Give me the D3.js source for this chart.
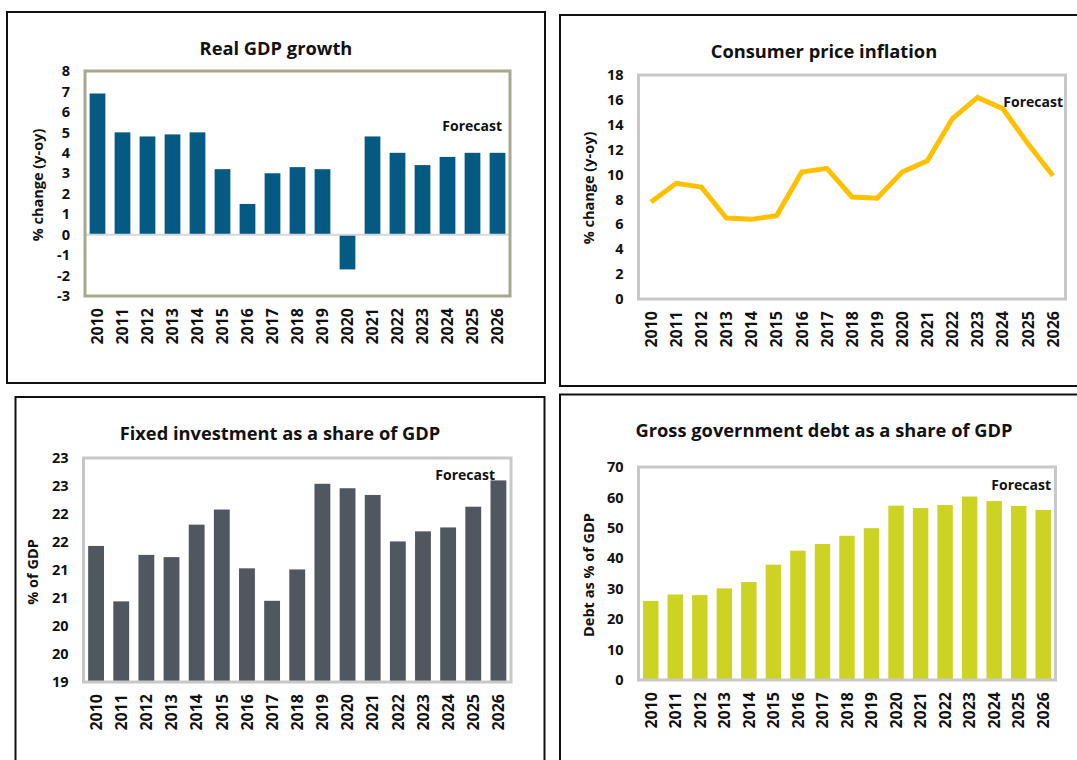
<!DOCTYPE html>
<html>
<head>
<meta charset="utf-8">
<script src="https://cdn.jsdelivr.net/npm/d3@7"></script>
<style>
  html, body { margin: 0; padding: 0; background: #fff; overflow: hidden; }
  svg { display: block; font-family: "Open Sans", "Noto Sans", sans-serif; }
  text { font-weight: 700; fill: #111; }
</style>
</head>
<body>
<svg id="chart" width="1077" height="760"></svg>
<script>
// Years on every category axis
const years = ["2010","2011","2012","2013","2014","2015","2016","2017","2018",
               "2019","2020","2021","2022","2023","2024","2025","2026"];

// Real GDP growth, % change y-oy
const gdpGrowth = [6.9, 5.0, 4.8, 4.9, 5.0, 3.2, 1.5, 3.0, 3.3, 3.2, -1.7, 4.8, 4.0, 3.4, 3.8, 4.0, 4.0];
const gdpTicks = [-3, -2, -1, 0, 1, 2, 3, 4, 5, 6, 7, 8];

// Consumer price inflation, % change y-oy
const inflation = [7.8, 9.3, 9.0, 6.5, 6.4, 6.7, 10.2, 10.5, 8.2, 8.1, 10.2, 11.1, 14.5, 16.2, 15.3, 12.5, 9.9];
const inflationTicks = [0, 2, 4, 6, 8, 10, 12, 14, 16, 18];

// Fixed investment as a share of GDP, %
const investment = [21.43, 20.44, 21.27, 21.23, 21.81, 22.08, 21.03, 20.45, 21.01,
                    22.54, 22.46, 22.34, 21.51, 21.69, 21.76, 22.13, 22.6];
const investmentTicks = [19, 19.5, 20, 20.5, 21, 21.5, 22, 22.5, 23];
const investmentTickLabels = ["19", "20", "20", "21", "21", "22", "22", "23", "23"];

// Gross government debt, % of GDP
const debt = [26.0, 28.1, 27.9, 30.1, 32.2, 37.9, 42.5, 44.7, 47.4, 49.9, 57.3, 56.5, 57.5, 60.3, 58.8, 57.2, 55.9];
const debtTicks = [0, 10, 20, 30, 40, 50, 60, 70];

const svg = d3.select("#chart");
const FONT = "\"Open Sans\", \"Noto Sans\", sans-serif";

const panels = [
  {
    title: "Real GDP growth", yLabel: "% change (y-oy)", kind: "bar",
    values: gdpGrowth, ticks: gdpTicks, tickLabels: gdpTicks.map(String),
    domain: [-3, 8], color: "#045a83", zeroLine: true,
    frame: { x: 7, y: 12, w: 538, h: 371 },
    plot: { l: 85, r: 510, t: 71, b: 296 },
    titleAt: [276, 47], yLabelAt: [37, 185], forecastAt: [502, 125],
    border: "#a8a890"
  },
  {
    title: "Consumer price inflation", yLabel: "% change (y-oy)", kind: "line",
    values: inflation, ticks: inflationTicks, tickLabels: inflationTicks.map(String),
    domain: [0, 18], color: "#ffc000",
    frame: { x: 560, y: 15, w: 530, h: 371 },
    plot: { l: 638.5, r: 1065.5, t: 75, b: 299 },
    titleAt: [824, 50], yLabelAt: [588, 188], forecastAt: [1063, 101],
    border: "#c8c8c8"
  },
  {
    title: "Fixed investment as a share of GDP", yLabel: "% of GDP", kind: "bar",
    values: investment, ticks: investmentTicks, tickLabels: investmentTickLabels,
    domain: [19, 23], color: "#51575f",
    frame: { x: 15.5, y: 397, w: 529, h: 380 },
    plot: { l: 83.5, r: 511, t: 458, b: 682 },
    titleAt: [280, 432], yLabelAt: [32, 572], forecastAt: [495, 474],
    border: "#c8c8c8"
  },
  {
    title: "Gross government debt as a share of GDP", yLabel: "Debt as % of GDP", kind: "bar",
    values: debt, ticks: debtTicks, tickLabels: debtTicks.map(String),
    domain: [0, 70], color: "#cdd322",
    frame: { x: 560, y: 394.5, w: 530, h: 380 },
    plot: { l: 638.5, r: 1055.5, t: 467, b: 680 },
    titleAt: [824, 429], yLabelAt: [588, 575], forecastAt: [1051, 484],
    border: "#c8c8c8"
  }
];

panels.forEach(p => {
  const g = svg.append("g");

  // outer frame of the panel
  g.append("rect")
    .attr("x", p.frame.x).attr("y", p.frame.y)
    .attr("width", p.frame.w).attr("height", p.frame.h)
    .attr("fill", "none").attr("stroke", "#111").attr("stroke-width", 2);

  const x = d3.scaleBand().domain(years).range([p.plot.l, p.plot.r]).paddingInner(0.37).paddingOuter(0.185);
  const xc = d3.scalePoint().domain(years).range([p.plot.l, p.plot.r]).padding(0.5);
  const y = d3.scaleLinear().domain(p.domain).range([p.plot.b, p.plot.t]);

  // title
  g.append("text")
    .attr("x", p.titleAt[0]).attr("y", p.titleAt[1])
    .attr("text-anchor", "middle").attr("dominant-baseline", "central")
    .style("font-size", "18.3px")
    .text(p.title);

  // marks
  if (p.kind === "bar") {
    const base = y(Math.max(p.domain[0], 0));
    g.selectAll("rect.bar").data(p.values).join("rect")
      .attr("class", "bar")
      .attr("x", (d, i) => x(years[i]))
      .attr("width", x.bandwidth())
      .attr("y", d => Math.min(y(d), base))
      .attr("height", d => Math.abs(base - y(d)))
      .attr("fill", p.color);
  } else {
    const line = d3.line().x((d, i) => xc(years[i])).y(d => y(d));
    g.append("path").datum(p.values)
      .attr("d", line)
      .attr("fill", "none").attr("stroke", p.color)
      .attr("stroke-width", 5).attr("stroke-linejoin", "miter");
  }

  if (p.zeroLine) {
    g.append("line")
      .attr("x1", p.plot.l).attr("x2", p.plot.r)
      .attr("y1", y(0)).attr("y2", y(0))
      .attr("stroke", "#d4d8dc").attr("stroke-width", 2);
  }

  // plot area border
  g.append("rect")
    .attr("x", p.plot.l).attr("y", p.plot.t)
    .attr("width", p.plot.r - p.plot.l).attr("height", p.plot.b - p.plot.t)
    .attr("fill", "none").attr("stroke", p.border).attr("stroke-width", 3);

  // y axis
  const yAxis = d3.axisLeft(y).tickValues(p.ticks)
    .tickFormat((d, i) => p.tickLabels[i]).tickSize(0).tickPadding(15);
  const ya = g.append("g").attr("transform", `translate(${p.plot.l},0)`).call(yAxis);
  ya.select(".domain").remove();
  ya.selectAll("text").style("font-size", "14.5px").attr("fill", "#111")
    .style("font-family", FONT).style("font-weight", 700);

  // x axis, labels turned upright
  const xAxis = d3.axisBottom(x).tickSize(0).tickPadding(0);
  const xa = g.append("g").attr("transform", `translate(0,${p.plot.b})`).call(xAxis);
  xa.select(".domain").remove();
  xa.selectAll("text")
    .attr("transform", "rotate(-90)")
    .attr("x", -12).attr("y", 0).attr("dy", "0.36em")
    .attr("text-anchor", "end").attr("fill", "#111")
    .style("font-size", "16px")
    .style("font-family", FONT).style("font-weight", 700);

  // y axis title
  g.append("text")
    .attr("transform", `translate(${p.yLabelAt[0]},${p.yLabelAt[1]}) rotate(-90)`)
    .attr("text-anchor", "middle").attr("dominant-baseline", "central")
    .style("font-size", "14.5px")
    .text(p.yLabel);

  // forecast note
  g.append("text")
    .attr("x", p.forecastAt[0]).attr("y", p.forecastAt[1])
    .attr("text-anchor", "end").attr("dominant-baseline", "central")
    .style("font-size", "14px")
    .text("Forecast");
});
</script>
</body>
</html>
